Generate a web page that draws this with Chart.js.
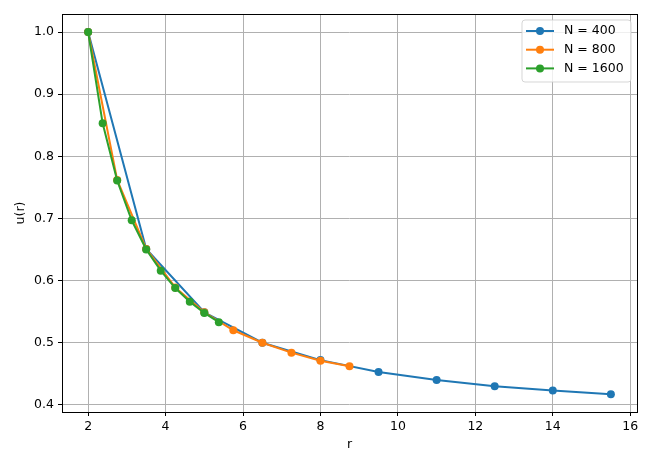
<!DOCTYPE html>
<html>
<head>
<meta charset="utf-8">
<script src="https://cdn.jsdelivr.net/npm/chart.js@4.4.0/dist/chart.umd.min.js"></script>
<style>
  html, body { margin: 0; padding: 0; background: #fff; }
  #wrap { width: 654px; height: 467px; position: relative; }
</style>
</head>
<body>
<div id="wrap"><canvas id="chart"></canvas></div>
<script>
// Data
const seriesNames = ["N = 400", "N = 800", "N = 1600"];
const seriesColors = ["#1f77b4", "#ff7f0e", "#2ca02c"];

const r400 = [2, 3.5, 5, 6.5, 8, 9.5, 11, 12.5, 14, 15.5];
const u400 = [1.0, 0.651, 0.549, 0.500, 0.472, 0.453, 0.440, 0.430, 0.423, 0.417];

const r800 = [2, 2.75, 3.5, 4.25, 5, 5.75, 6.5, 7.25, 8, 8.75];
const u800 = [1.0, 0.762, 0.651, 0.589, 0.549, 0.520, 0.500, 0.484, 0.471, 0.462];

const r1600 = [2, 2.375, 2.75, 3.125, 3.5, 3.875, 4.25, 4.625, 5, 5.375];
const u1600 = [1.0, 0.853, 0.761, 0.697, 0.650, 0.616, 0.588, 0.566, 0.548, 0.533];

const xTicks = [2, 4, 6, 8, 10, 12, 14, 16];
const yTicks = [0.4, 0.5, 0.6, 0.7, 0.8, 0.9, 1.0];

function toPoints(xs, ys) {
    return xs.map((x, i) => ({ x: x, y: ys[i] }));
}

const allR = [r400, r800, r1600];
const allU = [u400, u800, u1600];

const datasets = seriesNames.map((name, i) => ({
    label: name,
    data: toPoints(allR[i], allU[i]),
    borderColor: seriesColors[i],
    backgroundColor: seriesColors[i],
    borderWidth: 2,
    pointRadius: 4,
    pointHoverRadius: 4,
    pointBorderWidth: 0,
    tension: 0,
    order: seriesNames.length - i   // later series drawn on top, like matplotlib
}));

// frame around the axes + matplotlib-like legend box
const framePlugin = {
    id: "frame",
    afterDatasetsDraw(chart) {
        const { ctx, chartArea: a } = chart;
        ctx.save();
        ctx.strokeStyle = "#000";
        ctx.lineWidth = 1;
        ctx.strokeRect(Math.round(a.left) + 0.5, Math.round(a.top) + 0.5,
            Math.round(a.right - a.left), Math.round(a.bottom - a.top));

        // legend
        const bx = 522, by = 20, bw = 109, bh = 62, rad = 3;
        ctx.beginPath();
        ctx.moveTo(bx + rad, by);
        ctx.arcTo(bx + bw, by, bx + bw, by + bh, rad);
        ctx.arcTo(bx + bw, by + bh, bx, by + bh, rad);
        ctx.arcTo(bx, by + bh, bx, by, rad);
        ctx.arcTo(bx, by, bx + bw, by, rad);
        ctx.closePath();
        ctx.fillStyle = "rgba(255,255,255,0.8)";
        ctx.fill();
        ctx.strokeStyle = "rgba(204,204,204,0.8)";
        ctx.lineWidth = 1;
        ctx.stroke();

        ctx.font = "12.5px 'DejaVu Sans'";
        ctx.textBaseline = "middle";
        seriesNames.forEach((name, i) => {
            const y = 31 + i * 18.7;
            ctx.strokeStyle = seriesColors[i];
            ctx.lineWidth = 2;
            ctx.beginPath();
            ctx.moveTo(526, y);
            ctx.lineTo(554, y);
            ctx.stroke();
            ctx.fillStyle = seriesColors[i];
            ctx.beginPath();
            ctx.arc(540, y, 4, 0, Math.PI * 2);
            ctx.fill();
            ctx.fillStyle = "#000";
            ctx.fillText(name, 564, y);
        });
        ctx.restore();
    }
};

const ctx = document.getElementById("chart");
new Chart(ctx, {
    type: "line",
    data: { datasets: datasets },
    options: {
        responsive: true,
        maintainAspectRatio: false,
        animation: false,
        layout: { padding: { top: 14, right: 17, left: 0, bottom: 0 } },
        plugins: {
            legend: { display: false },
            tooltip: { enabled: false }
        },
        scales: {
            x: {
                type: "linear",
                min: 1.325,
                max: 16.175,
                afterBuildTicks: (scale) => { scale.ticks = xTicks.map(v => ({ value: v })); },
                afterFit: (scale) => { scale.height = 55; },
                ticks: {
                    includeBounds: false,
                    padding: 3,
                    color: "#000",
                    font: { family: "DejaVu Sans", size: 12.5 },
                    callback: (v) => String(v)
                },
                grid: { color: "#b0b0b0", lineWidth: 1, tickColor: "#000", tickLength: 4 },
                border: { display: false },
                title: {
                    display: true, text: "r", color: "#000",
                    font: { family: "DejaVu Sans", size: 12.5 },
                    padding: { top: 0, bottom: 15 }
                }
            },
            y: {
                min: 0.3885,
                max: 1.029,
                afterBuildTicks: (scale) => { scale.ticks = yTicks.map(v => ({ value: v })); },
                afterFit: (scale) => { scale.width = 62; },
                ticks: {
                    includeBounds: false,
                    padding: 4,
                    color: "#000",
                    font: { family: "DejaVu Sans", size: 12.5 },
                    callback: (v) => v.toFixed(1)
                },
                grid: { color: "#b0b0b0", lineWidth: 1, tickColor: "#000", tickLength: 4 },
                border: { display: false },
                title: {
                    display: true, text: "u(r)", color: "#000",
                    font: { family: "DejaVu Sans", size: 12.5 },
                    padding: { top: 13, bottom: 0 }
                }
            }
        }
    },
    plugins: [framePlugin]
});
</script>
</body>
</html>
